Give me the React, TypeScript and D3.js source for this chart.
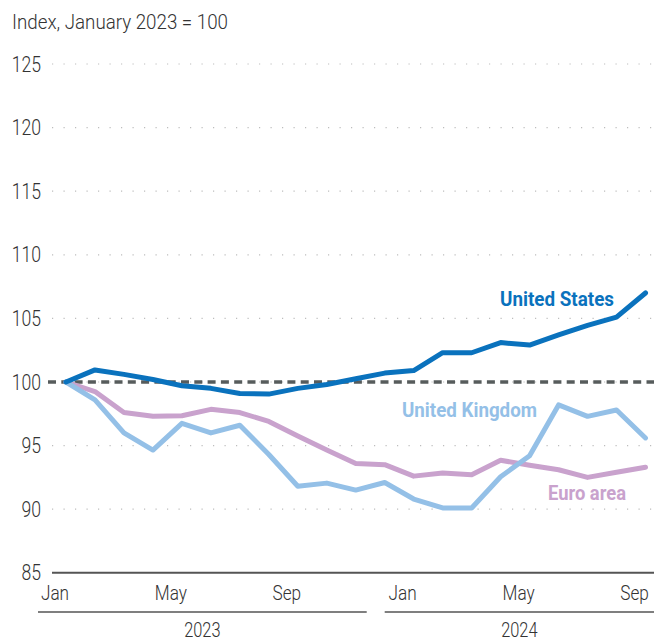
import React from "react";
import * as d3 from "d3";

const months = ["Jan 2023","Feb 2023","Mar 2023","Apr 2023","May 2023","Jun 2023","Jul 2023","Aug 2023","Sep 2023","Oct 2023","Nov 2023","Dec 2023","Jan 2024","Feb 2024","Mar 2024","Apr 2024","May 2024","Jun 2024","Jul 2024","Aug 2024","Sep 2024"];
const unitedStates = [100, 100.95, 100.6, 100.2, 99.7, 99.5, 99.1, 99.05, 99.5, 99.8, 100.25, 100.7, 100.9, 102.3, 102.3, 103.1, 102.9, 103.7, 104.45, 105.1, 107.0];
const unitedKingdom = [100, 98.6, 96.0, 94.65, 96.75, 96.0, 96.6, 94.3, 91.8, 92.05, 91.5, 92.1, 90.8, 90.1, 90.1, 92.55, 94.2, 98.2, 97.3, 97.8, 95.6];
const euroArea = [100, 99.25, 97.6, 97.3, 97.35, 97.85, 97.6, 96.9, 95.75, 94.65, 93.6, 93.5, 92.6, 92.85, 92.7, 93.85, 93.45, 93.1, 92.5, 92.9, 93.3];
const yTicks = [85, 90, 95, 100, 105, 110, 115, 120, 125];
const monthTickIdx = [0, 4, 8, 12, 16, 20];
const monthTickLabels = ["Jan", "May", "Sep", "Jan", "May", "Sep"];
const years = ["2023", "2024"];
const yearSpans = [[0, 11], [12, 20]];

const FONT = "Roboto, 'Noto Sans', sans-serif";

export default function App() {
  const W = 654, H = 643;
  const x = d3.scaleLinear().domain([0, months.length - 1]).range([66, 645.5]);
  const y = d3.scaleLinear().domain([85, 125]).range([572.8, 64]);
  const line = d3.line<number>().x((_, i) => x(i)).y((d) => y(d)).curve(d3.curveLinear);

  const series = [
    { name: "Euro area", data: euroArea, color: "#c9a2cd" },
    { name: "United Kingdom", data: unitedKingdom, color: "#94c0e7" },
    { name: "United States", data: unitedStates, color: "#0a72bd" },
  ];

  const gridL = 52, gridR = 654;

  return (
    <svg width={W} height={H} style={{ position: "absolute", left: 0, top: 0, display: "block", background: "#fff" }}>
      <text x={12} y={29} fontFamily={FONT} fontWeight={300} fontSize={20} fill="#333" textLength={216} lengthAdjust="spacingAndGlyphs">
        Index, January 2023 = 100
      </text>
      {yTicks.map((t) => (
        <g key={t}>
          {t !== 85 && (
            <line x1={gridL} x2={gridR} y1={y(t)} y2={y(t)} stroke="#bdbdbd" strokeWidth={1.2} strokeDasharray="1.2,10.3" />
          )}
          <text
            transform={`translate(41,${y(t) + 7.5}) scale(0.8,1)`}
            textAnchor="end"
            fontFamily={FONT}
            fontWeight={300}
            fontSize={22}
            fill="#333"
          >
            {t}
          </text>
        </g>
      ))}
      {/* axis baseline */}
      <line x1={gridL} x2={gridR} y1={y(85)} y2={y(85)} stroke="#555" strokeWidth={2} />
      {/* reference line */}
      <line x1={48} x2={gridR} y1={y(100)} y2={y(100)} stroke="#575c5c" strokeWidth={3.6} strokeDasharray="8,5.3" />
      {series.map((s) => (
        <path key={s.name} d={line(s.data) || ""} fill="none" stroke={s.color} strokeWidth={5} strokeLinejoin="round" strokeLinecap="round" />
      ))}
      {/* series labels */}
      <text x={500} y={306} fontFamily={FONT} fontWeight={700} fontSize={21} fill="#0a72bd" textLength={114} lengthAdjust="spacingAndGlyphs">United States</text>
      <text x={402} y={417} fontFamily={FONT} fontWeight={700} fontSize={21} fill="#94c0e7" textLength={135} lengthAdjust="spacingAndGlyphs">United Kingdom</text>
      <text x={548} y={500} fontFamily={FONT} fontWeight={700} fontSize={21} fill="#c9a2cd" textLength={78} lengthAdjust="spacingAndGlyphs">Euro area</text>
      {/* month labels */}
      {monthTickIdx.map((idx, k) => (
        <text
          key={idx}
          transform={`translate(${x(idx) - 11},600) scale(0.82,1)`}
          textAnchor="middle"
          fontFamily={FONT}
          fontWeight={300}
          fontSize={21}
          fill="#333"
        >
          {monthTickLabels[k]}
        </text>
      ))}
      {/* year groups */}
      {years.map((yr, k) => {
        const x1 = k === 0 ? 38 : x(yearSpans[k][0]) - 29;
        const x2 = k === 0 ? x(yearSpans[k][1]) - 18 : gridR;
        return (
          <g key={yr}>
            <line x1={x1} x2={x2} y1={612} y2={612} stroke="#555" strokeWidth={1.5} />
            <text
              transform={`translate(${(x1 + x2) / 2},637) scale(0.82,1)`}
              textAnchor="middle"
              fontFamily={FONT}
              fontWeight={300}
              fontSize={20}
              fill="#333"
            >
              {yr}
            </text>
          </g>
        );
      })}
    </svg>
  );
}
